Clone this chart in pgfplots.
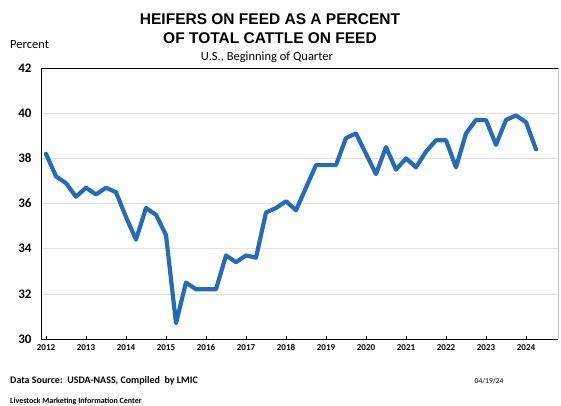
\documentclass[border=0pt]{standalone}
\usepackage{fontspec}
\setmainfont{Carlito}
\newfontfamily\titlefont{Liberation Sans}
\usepackage{pgfplots}
\pgfplotsset{compat=1.18}
\definecolor{lineblue}{RGB}{36,108,186}
\definecolor{gridgray}{RGB}{225,225,225}

\begin{document}
\begin{tikzpicture}
\useasboundingbox (-41pt,-67pt) rectangle (520pt,339pt);
\begin{axis}[
    scale only axis,
    width=517pt, height=271pt,
    xmin=2011.875, xmax=2024.8,
    ymin=30, ymax=42,
    ytick={30,32,...,42},
    xtick={2012,2013,...,2024},
    minor x tick num=3,
    axis x line*=box, axis y line*=left,
    axis line style={black, line width=0.9pt},
    ymajorgrids,
    grid style={gridgray, line width=0.6pt},
    tick style={black, line width=0.5pt},
    major tick length=3pt, minor tick length=2pt,
    tick pos=left,
    ytick style={draw=none},
    /pgf/number format/assume math mode=true,
    /pgf/number format/1000 sep={},
    yticklabel style={font=\fontsize{13}{13}\selectfont\bfseries, xshift=-6pt},
    xticklabel style={font=\fontsize{9}{9}\selectfont\bfseries, yshift=-2pt},
    clip=false,
]
\addplot[lineblue, line width=4.2pt, line join=round, line cap=round] coordinates {
(2012.00,38.2) (2012.25,37.2) (2012.50,36.9) (2012.75,36.3)
(2013.00,36.7) (2013.25,36.4) (2013.50,36.7) (2013.75,36.5)
(2014.00,35.4) (2014.25,34.4) (2014.50,35.8) (2014.75,35.5)
(2015.00,34.6) (2015.25,30.7) (2015.50,32.5) (2015.75,32.2)
(2016.00,32.2) (2016.25,32.2) (2016.50,33.7) (2016.75,33.4)
(2017.00,33.7) (2017.25,33.6) (2017.50,35.6) (2017.75,35.8)
(2018.00,36.1) (2018.25,35.7) (2018.50,36.7) (2018.75,37.7)
(2019.00,37.7) (2019.25,37.7) (2019.50,38.9) (2019.75,39.1)
(2020.00,38.2) (2020.25,37.3) (2020.50,38.5) (2020.75,37.5)
(2021.00,38.0) (2021.25,37.6) (2021.50,38.3) (2021.75,38.8)
(2022.00,38.8) (2022.25,37.6) (2022.50,39.1) (2022.75,39.7)
(2023.00,39.7) (2023.25,38.6) (2023.50,39.7) (2023.75,39.9)
(2024.00,39.6) (2024.25,38.4)
};
\draw[gray!45, line width=0.7pt] (rel axis cs:1,0) -- (rel axis cs:1,1);
\end{axis}
\node[font=\titlefont\bfseries\fontsize{15.5}{16}\selectfont] at (229pt,320pt) {HEIFERS ON FEED AS A PERCENT};
\node[font=\titlefont\bfseries\fontsize{15.5}{16}\selectfont] at (229pt,301pt) {OF TOTAL CATTLE ON FEED};
\node[font=\fontsize{12.5}{13}\selectfont] at (226pt,282pt) {U.S., Beginning of Quarter};
\node[anchor=west, inner sep=0pt, font=\fontsize{12.5}{13}\selectfont] at (-31pt,294pt) {Percent};
\node[anchor=west, inner sep=0pt, font=\fontsize{10}{10}\selectfont\bfseries] at (-31pt,-42pt) {Data Source:\ \ USDA-NASS, Compiled\ \ by LMIC};
\node[inner sep=0pt, font=\fontsize{7.5}{8}\selectfont] at (448pt,-42pt) {04/19/24};
\node[anchor=west, inner sep=0pt, font=\fontsize{8}{8}\selectfont\bfseries] at (-31pt,-62pt) {Livestock Marketing Information Center};
\end{tikzpicture}
\end{document}
